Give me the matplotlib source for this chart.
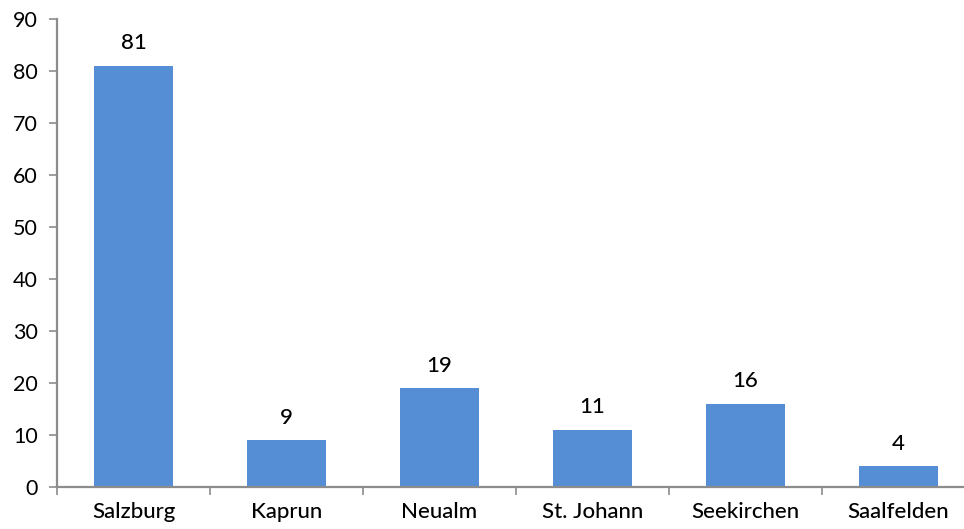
import numpy as np
import matplotlib

matplotlib.use("Agg")
import matplotlib.pyplot as plt

# location counts
locations = ["Salzburg", "Kaprun", "Neualm", "St. Johann", "Seekirchen", "Saalfelden"]
counts = [81, 9, 19, 11, 16, 4]
y_ticks = [0, 10, 20, 30, 40, 50, 60, 70, 80, 90]

plt.rcParams["font.family"] = ["Lato", "DejaVu Sans"]

W, H = 964, 529
fig = plt.figure(figsize=(W / 100, H / 100), dpi=100)
left, right, top, bottom = 57, 975, 19, 487
ax = fig.add_axes([left / W, (H - bottom) / H, (right - left) / W, (bottom - top) / H])

axis_col = "#8c8c8c"
bar_col = "#558ed5"
x = np.arange(len(locations))
bars = ax.bar(x, counts, width=0.52, color=bar_col, zorder=2)
for xi, v in zip(x, counts):
    ax.annotate(str(v), (xi, v), xytext=(0, 9), textcoords="offset points",
                ha="center", va="bottom", fontsize=16, fontweight="medium", color="black")

ax.set_xlim(-0.5, len(locations) - 0.5)
ax.set_ylim(0, 90)
ax.set_yticks(y_ticks)
ax.tick_params(axis="y", labelsize=15.5, length=6, width=1.2, color=axis_col, pad=8)

# category labels sit between separator ticks
ax.set_xticks(x)
ax.set_xticklabels(locations, fontsize=16, fontweight="medium")
ax.tick_params(axis="x", length=0, pad=11)
ax.set_xticks(np.arange(len(locations) + 1) - 0.5, minor=True)
ax.tick_params(axis="x", which="minor", length=6, width=1.2, color=axis_col)

for side in ["top", "right"]:
    ax.spines[side].set_visible(False)
for side in ["left", "bottom"]:
    ax.spines[side].set_color(axis_col)
    ax.spines[side].set_linewidth(1.6)

fig.savefig("out.png", dpi=100)
